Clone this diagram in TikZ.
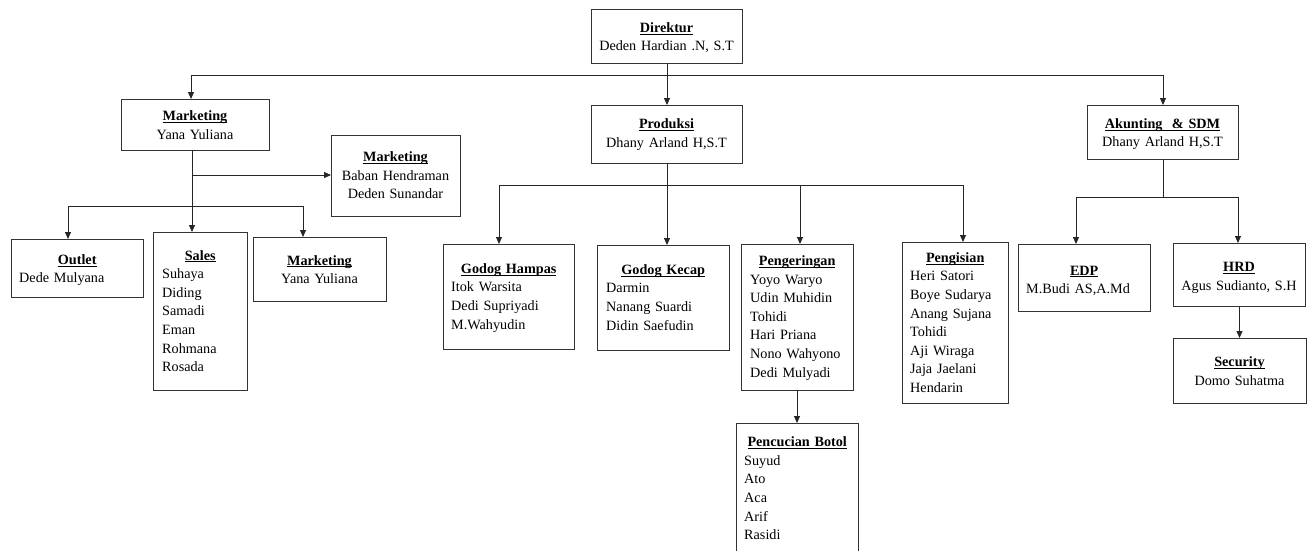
\documentclass[tikz,border=0pt]{standalone}
\usepackage{fontspec}
\setmainfont{Liberation Serif}
\usetikzlibrary{arrows.meta}
\newcommand\headtxt[1]{\setbox0\hbox{\textbf{#1}}\rlap{\rule[-2.4pt]{\wd0}{1.1pt}}\box0}
\begin{document}
\begin{tikzpicture}[x=1pt,y=-1pt,
  box/.style={draw=black!80, line width=1pt, inner sep=0pt, anchor=north west},
  txtL/.style={inner sep=0pt, anchor=base west, align=left, font=\fontsize{14.2}{18.6}\selectfont},
  txtC/.style={inner sep=0pt, anchor=base, align=center, font=\fontsize{14.2}{18.6}\selectfont},
  conn/.style={draw=black!85, line width=0.9pt},
  arr/.style={conn, -{Triangle[length=7pt,width=6pt]}}]
\clip (0,0) rectangle (1314,550);
\fill[white] (0,0) rectangle (1314,550);

% boxes
\node[box, minimum width=151pt, minimum height=54pt] (dir) at (591,9) {};
\node[box, minimum width=148pt, minimum height=51pt] (mkt) at (121,99) {};
\node[box, minimum width=151pt, minimum height=58pt] (prod) at (591,105) {};
\node[box, minimum width=151pt, minimum height=54pt] (akun) at (1087,105) {};
\node[box, minimum width=129pt, minimum height=81pt] (mktb) at (331,135) {};
\node[box, minimum width=132pt, minimum height=58pt] (outlet) at (11,239) {};
\node[box, minimum width=94pt, minimum height=158pt] (sales) at (153,232) {};
\node[box, minimum width=133pt, minimum height=64pt] (mktc) at (253,237) {};
\node[box, minimum width=131pt, minimum height=105pt] (gh) at (443,244) {};
\node[box, minimum width=132pt, minimum height=105pt] (gk) at (597,245) {};
\node[box, minimum width=112pt, minimum height=146pt] (peng) at (741,244) {};
\node[box, minimum width=122pt, minimum height=140pt] (pencuc) at (736,423) {};
\node[box, minimum width=106pt, minimum height=161pt] (pengis) at (902,242) {};
\node[box, minimum width=132pt, minimum height=67pt] (edp) at (1018,244) {};
\node[box, minimum width=132pt, minimum height=63pt] (hrd) at (1173,243) {};
\node[box, minimum width=133pt, minimum height=65pt] (sec) at (1173,338) {};

% texts
\node[txtC, text width=147pt] (dirT) at (666.5,32.3) {\headtxt{Direktur}\\Deden Hardian .N, S.T};
\node[txtC, text width=144pt] (mktT) at (195,120.7) {\headtxt{Marketing}\\Yana Yuliana};
\node[txtC, text width=147pt] (prodT) at (666.5,128.7) {\headtxt{Produksi}\\Dhany Arland H,S.T};
\node[txtC, text width=147pt] (akunT) at (1162.5,128.3) {\headtxt{Akunting\ \ \& SDM}\\Dhany Arland H,S.T};
\node[txtC, text width=125pt] (mktbT) at (395.5,161.7) {\headtxt{Marketing}\\Baban Hendraman\\Deden Sunandar};
\node[txtL, text width=116pt] (outletT) at (19,264.3) {\makebox[\linewidth]{\headtxt{Outlet}}\\Dede Mulyana};
\node[txtL, text width=76pt] (salesT) at (162,260) {\makebox[\linewidth]{\headtxt{Sales}}\\Suhaya\\Diding\\Samadi\\Eman\\Rohmana\\Rosada};
\node[txtC, text width=129pt] (mktcT) at (319.5,265) {\headtxt{Marketing}\\Yana Yuliana};
\node[txtL, text width=115pt] (ghT) at (451,273.3) {\makebox[\linewidth]{\headtxt{Godog Hampas}}\\Itok Warsita\\Dedi Supriyadi\\M.Wahyudin};
\node[txtL, text width=114pt] (gkT) at (606,274.3) {\makebox[\linewidth]{\headtxt{Godog Kecap}}\\Darmin\\Nanang Suardi\\Didin Saefudin};
\node[txtL, text width=94pt] (pengT) at (750,265.5) {\makebox[\linewidth]{\headtxt{Pengeringan}}\\Yoyo Waryo\\Udin Muhidin\\Tohidi\\Hari Priana\\Nono Wahyono\\Dedi Mulyadi};
\node[txtL, text width=106pt] (pencucT) at (744,446.7) {\makebox[\linewidth]{\headtxt{Pencucian Botol}}\\Suyud\\Ato\\Aca\\Arif\\Rasidi};
\node[txtL, text width=90pt] (pengisT) at (910,262.3) {\makebox[\linewidth]{\headtxt{Pengisian}}\\Heri Satori\\Boye Sudarya\\Anang Sujana\\Tohidi\\Aji Wiraga\\Jaja Jaelani\\Hendarin};
\node[txtL, text width=116pt] (edpT) at (1026,275) {\makebox[\linewidth]{\headtxt{EDP}}\\M.Budi AS,A.Md};
\node[txtC, text width=128pt] (hrdT) at (1239,271.7) {\headtxt{HRD}\\Agus Sudianto, S.H};
\node[txtC, text width=129pt] (secT) at (1239.5,366.7) {\headtxt{Security}\\Domo Suhatma};

% connectors: top level
\coordinate (tl) at (191,75);
\coordinate (tr) at (1163,75);
\draw[conn] (tl) -- (tr);
\draw[arr] (dir.south) -- (prod.north);
\draw[arr] (tl) -- (tl |- mkt.north);
\draw[arr] (tr) -- (tr |- akun.north);

% marketing branch
\coordinate (ms) at (192,150);
\coordinate (mh) at (192,175);
\coordinate (ml) at (68,206);
\coordinate (mr) at (303,206);
\draw[arr] (ms) -- (ms |- sales.north);
\draw[arr] (mh) -- (mh -| mktb.west);
\draw[conn] (ml) -- (mr);
\draw[arr] (ml) -- (ml |- outlet.north);
\draw[arr] (mr) -- (mr |- mktc.north);

% produksi branch
\coordinate (pl) at (499,185);
\coordinate (pm) at (800,185);
\coordinate (pr) at (963,185);
\draw[conn] (pl) -- (pr);
\draw[arr] (prod.south) -- (prod.south |- gk.north);
\draw[arr] (pl) -- (pl |- gh.north);
\draw[arr] (pm) -- (pm |- peng.north);
\draw[arr] (pr) -- (pr |- pengis.north);
\coordinate (ps) at (797,390);
\draw[arr] (ps) -- (ps |- pencuc.north);

% akunting branch
\coordinate (al) at (1076,197);
\coordinate (ar) at (1238,197);
\draw[conn] (akun.south) -- (akun.south |- al);
\draw[conn] (al) -- (ar);
\draw[arr] (al) -- (al |- edp.north);
\draw[arr] (ar) -- (ar |- hrd.north);
\draw[arr] (hrd.south) -- (hrd.south |- sec.north);
\end{tikzpicture}
\end{document}
